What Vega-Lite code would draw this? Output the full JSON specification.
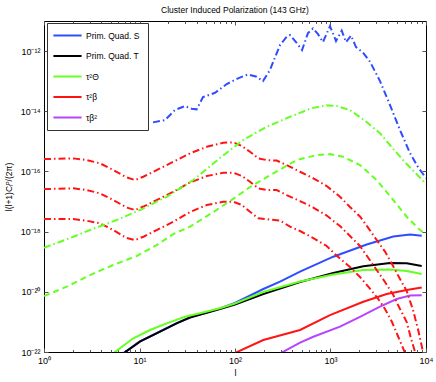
{
  "$schema": "https://vega.github.io/schema/vega-lite/v6.json",
  "width": 382,
  "height": 331,
  "autosize": {"type": "none"},
  "padding": {"left": 44, "top": 21, "right": 10, "bottom": 30},
  "background": "white",
  "title": {"text": "Cluster Induced Polarization (143 GHz)", "fontSize": 8.5, "font": "Liberation Sans", "fontWeight": "normal", "color": "black", "offset": 6},
  "config": {
    "view": {"stroke": "black", "strokeWidth": 1},
    "font": "Liberation Sans",
    "axis": {"grid": false, "domain": false, "labelFont": "Liberation Sans", "titleFont": "Liberation Sans", "labelColor": "black", "titleColor": "black", "tickColor": "#555", "tickWidth": 1, "labelFlush": false, "labelOverlap": false, "titleFontWeight": "normal"}
  },
  "datasets": {
    "curves": [
      {"c": "Prim. Quad. S", "l": 6.8, "v": 9.2e-23},
      {"c": "Prim. Quad. S", "l": 10.1, "v": 2.25e-22},
      {"c": "Prim. Quad. S", "l": 16.4, "v": 4.8e-22},
      {"c": "Prim. Quad. S", "l": 24.5, "v": 9.1e-22},
      {"c": "Prim. Quad. S", "l": 33.8, "v": 1.42e-21},
      {"c": "Prim. Quad. S", "l": 50.6, "v": 2.06e-21},
      {"c": "Prim. Quad. S", "l": 69.6, "v": 2.8e-21},
      {"c": "Prim. Quad. S", "l": 100, "v": 4.25e-21},
      {"c": "Prim. Quad. S", "l": 198, "v": 1.24e-20},
      {"c": "Prim. Quad. S", "l": 296, "v": 2.17e-20},
      {"c": "Prim. Quad. S", "l": 480, "v": 4.72e-20},
      {"c": "Prim. Quad. S", "l": 1069, "v": 1.47e-19},
      {"c": "Prim. Quad. S", "l": 2393, "v": 3.72e-19},
      {"c": "Prim. Quad. S", "l": 4546, "v": 6.87e-19},
      {"c": "Prim. Quad. S", "l": 6800, "v": 8.02e-19},
      {"c": "Prim. Quad. S", "l": 9018, "v": 7.31e-19},

      {"c": "Prim. Quad. T", "l": 6.8, "v": 9.0e-23},
      {"c": "Prim. Quad. T", "l": 10.1, "v": 2.2e-22},
      {"c": "Prim. Quad. T", "l": 16.4, "v": 4.72e-22},
      {"c": "Prim. Quad. T", "l": 24.5, "v": 8.97e-22},
      {"c": "Prim. Quad. T", "l": 33.8, "v": 1.4e-21},
      {"c": "Prim. Quad. T", "l": 50.6, "v": 2.02e-21},
      {"c": "Prim. Quad. T", "l": 69.6, "v": 2.69e-21},
      {"c": "Prim. Quad. T", "l": 100, "v": 3.78e-21},
      {"c": "Prim. Quad. T", "l": 198, "v": 8.45e-21},
      {"c": "Prim. Quad. T", "l": 480, "v": 2.12e-20},
      {"c": "Prim. Quad. T", "l": 1069, "v": 4.22e-20},
      {"c": "Prim. Quad. T", "l": 2206, "v": 7.03e-20},
      {"c": "Prim. Quad. T", "l": 4198, "v": 9.06e-20},
      {"c": "Prim. Quad. T", "l": 6283, "v": 8.85e-20},
      {"c": "Prim. Quad. T", "l": 9018, "v": 7.19e-20},

      {"c": "τ²Θ", "l": 5.3, "v": 9.0e-23},
      {"c": "τ²Θ", "l": 8.61, "v": 2.85e-22},
      {"c": "τ²Θ", "l": 12.9, "v": 5.38e-22},
      {"c": "τ²Θ", "l": 19.3, "v": 8.97e-22},
      {"c": "τ²Θ", "l": 29.9, "v": 1.49e-21},
      {"c": "τ²Θ", "l": 43.0, "v": 1.93e-21},
      {"c": "τ²Θ", "l": 69.6, "v": 2.83e-21},
      {"c": "τ²Θ", "l": 100, "v": 4.08e-21},
      {"c": "τ²Θ", "l": 198, "v": 9.84e-21},
      {"c": "τ²Θ", "l": 480, "v": 2.2e-20},
      {"c": "τ²Θ", "l": 1069, "v": 3.76e-20},
      {"c": "τ²Θ", "l": 2206, "v": 5.3e-20},
      {"c": "τ²Θ", "l": 4198, "v": 5.51e-20},
      {"c": "τ²Θ", "l": 6283, "v": 4.91e-20},
      {"c": "τ²Θ", "l": 9018, "v": 3.9e-20},

      {"c": "τ²β", "l": 100, "v": 9.27e-23},
      {"c": "τ²β", "l": 197.8, "v": 2.51e-22},
      {"c": "τ²β", "l": 479.7, "v": 5.38e-22},
      {"c": "τ²β", "l": 988, "v": 1.69e-21},
      {"c": "τ²β", "l": 2206, "v": 4.69e-21},
      {"c": "τ²β", "l": 3875, "v": 8.45e-21},
      {"c": "τ²β", "l": 6283, "v": 1.15e-20},
      {"c": "τ²β", "l": 9018, "v": 1.39e-20},

      {"c": "τβ²", "l": 296, "v": 8.9e-23},
      {"c": "τβ²", "l": 480, "v": 2.04e-22},
      {"c": "τβ²", "l": 661, "v": 3.22e-22},
      {"c": "τβ²", "l": 1257, "v": 6.93e-22},
      {"c": "τβ²", "l": 2036, "v": 1.46e-21},
      {"c": "τβ²", "l": 3298, "v": 3.2e-21},
      {"c": "τβ²", "l": 4932, "v": 5.77e-21},
      {"c": "τβ²", "l": 6800, "v": 7.53e-21},
      {"c": "τβ²", "l": 9018, "v": 7.66e-21}
    ],
    "blueDD": [
      {"c": "S cluster", "l": 13.85, "v": 4.28e-15},
      {"c": "S cluster", "l": 18.5, "v": 5.11e-15},
      {"c": "S cluster", "l": 23.5, "v": 1.1e-14},
      {"c": "S cluster", "l": 29.9, "v": 1.49e-14},
      {"c": "S cluster", "l": 35.2, "v": 1.21e-14},
      {"c": "S cluster", "l": 39.7, "v": 1.16e-14},
      {"c": "S cluster", "l": 46.2, "v": 2.96e-14},
      {"c": "S cluster", "l": 61.8, "v": 4.12e-14},
      {"c": "S cluster", "l": 81.9, "v": 8.02e-14},
      {"c": "S cluster", "l": 107.5, "v": 1.24e-13},
      {"c": "S cluster", "l": 136.7, "v": 1.68e-13},
      {"c": "S cluster", "l": 168.7, "v": 1.4e-13},
      {"c": "S cluster", "l": 196.3, "v": 1.01e-13},
      {"c": "S cluster", "l": 232.4, "v": 2.34e-13},
      {"c": "S cluster", "l": 262.2, "v": 6.18e-13},
      {"c": "S cluster", "l": 295.9, "v": 1.58e-12},
      {"c": "S cluster", "l": 347.8, "v": 2.99e-12},
      {"c": "S cluster", "l": 376.7, "v": 3.4e-12},
      {"c": "S cluster", "l": 435.5, "v": 1.99e-12},
      {"c": "S cluster", "l": 503.5, "v": 1.08e-12},
      {"c": "S cluster", "l": 580.8, "v": 3.96e-12},
      {"c": "S cluster", "l": 655.7, "v": 5.68e-12},
      {"c": "S cluster", "l": 739.6, "v": 3.67e-12},
      {"c": "S cluster", "l": 834, "v": 1.99e-12},
      {"c": "S cluster", "l": 988, "v": 6.78e-12},
      {"c": "S cluster", "l": 1142, "v": 2.15e-12},
      {"c": "S cluster", "l": 1310, "v": 4.8e-12},
      {"c": "S cluster", "l": 1453, "v": 1.99e-12},
      {"c": "S cluster", "l": 1640, "v": 3.27e-12},
      {"c": "S cluster", "l": 1850, "v": 1.36e-12},
      {"c": "S cluster", "l": 2190, "v": 8.91e-13},
      {"c": "S cluster", "l": 2592, "v": 4.42e-13},
      {"c": "S cluster", "l": 3298, "v": 1.01e-13},
      {"c": "S cluster", "l": 4198, "v": 1.61e-14},
      {"c": "S cluster", "l": 5343, "v": 2.37e-15},
      {"c": "S cluster", "l": 6800, "v": 4.08e-16},
      {"c": "S cluster", "l": 8240, "v": 1.4e-16},
      {"c": "S cluster", "l": 10000, "v": 6.04e-17}
    ],
    "greenDD": [
      {"c": "Theta cluster", "l": 1, "v": 2.92e-19},
      {"c": "Theta cluster", "l": 1.73, "v": 5.55e-19},
      {"c": "Theta cluster", "l": 3.03, "v": 1.13e-18},
      {"c": "Theta cluster", "l": 5.77, "v": 2.43e-18},
      {"c": "Theta cluster", "l": 10.1, "v": 5.22e-18},
      {"c": "Theta cluster", "l": 19.3, "v": 1.44e-17},
      {"c": "Theta cluster", "l": 36.6, "v": 5.18e-17},
      {"c": "Theta cluster", "l": 69.6, "v": 2.79e-16},
      {"c": "Theta cluster", "l": 121, "v": 1.1e-15},
      {"c": "Theta cluster", "l": 215, "v": 3.05e-15},
      {"c": "Theta cluster", "l": 377, "v": 6.56e-15},
      {"c": "Theta cluster", "l": 625, "v": 1.25e-14},
      {"c": "Theta cluster", "l": 912, "v": 1.57e-14},
      {"c": "Theta cluster", "l": 1161, "v": 1.49e-14},
      {"c": "Theta cluster", "l": 1600, "v": 1.1e-14},
      {"c": "Theta cluster", "l": 2355, "v": 4.55e-15},
      {"c": "Theta cluster", "l": 3298, "v": 1.85e-15},
      {"c": "Theta cluster", "l": 4546, "v": 5.55e-16},
      {"c": "Theta cluster", "l": 6283, "v": 1.76e-16},
      {"c": "Theta cluster", "l": 8240, "v": 7.31e-17},
      {"c": "Theta cluster", "l": 10000, "v": 3.81e-17}
    ],
    "greenDash": [
      {"c": "Theta cluster 2", "l": 1, "v": 7.24e-21},
      {"c": "Theta cluster 2", "l": 1.73, "v": 1.48e-20},
      {"c": "Theta cluster 2", "l": 3.03, "v": 3.61e-20},
      {"c": "Theta cluster 2", "l": 5.28, "v": 7.76e-20},
      {"c": "Theta cluster 2", "l": 9.35, "v": 1.55e-19},
      {"c": "Theta cluster 2", "l": 15.1, "v": 3.59e-19},
      {"c": "Theta cluster 2", "l": 22.6, "v": 8.32e-19},
      {"c": "Theta cluster 2", "l": 33.8, "v": 1.46e-18},
      {"c": "Theta cluster 2", "l": 59.3, "v": 4.48e-18},
      {"c": "Theta cluster 2", "l": 88.6, "v": 1.04e-17},
      {"c": "Theta cluster 2", "l": 143.5, "v": 3.03e-17},
      {"c": "Theta cluster 2", "l": 252, "v": 8.65e-17},
      {"c": "Theta cluster 2", "l": 443, "v": 2.39e-16},
      {"c": "Theta cluster 2", "l": 716, "v": 3.51e-16},
      {"c": "Theta cluster 2", "l": 988, "v": 3.78e-16},
      {"c": "Theta cluster 2", "l": 1362, "v": 3.08e-16},
      {"c": "Theta cluster 2", "l": 2036, "v": 1.63e-16},
      {"c": "Theta cluster 2", "l": 3045, "v": 5.18e-17},
      {"c": "Theta cluster 2", "l": 4546, "v": 1.12e-17},
      {"c": "Theta cluster 2", "l": 6283, "v": 3.13e-18},
      {"c": "Theta cluster 2", "l": 8650, "v": 1.13e-18},
      {"c": "Theta cluster 2", "l": 10000, "v": 8.32e-19}
    ],
    "redDD": [
      {"c": "beta a", "l": 1, "v": 2.58e-16},
      {"c": "beta a", "l": 2.03, "v": 2.72e-16},
      {"c": "beta a", "l": 2.8, "v": 2.39e-16},
      {"c": "beta a", "l": 3.86, "v": 1.86e-16},
      {"c": "beta a", "l": 5.32, "v": 1.11e-16},
      {"c": "beta a", "l": 7.34, "v": 6.37e-17},
      {"c": "beta a", "l": 8.97, "v": 5.18e-17},
      {"c": "beta a", "l": 10.96, "v": 6.67e-17},
      {"c": "beta a", "l": 15.1, "v": 1.11e-16},
      {"c": "beta a", "l": 22.6, "v": 2.1e-16},
      {"c": "beta a", "l": 33.8, "v": 3.99e-16},
      {"c": "beta a", "l": 50.6, "v": 6.62e-16},
      {"c": "beta a", "l": 75.4, "v": 8.97e-16},
      {"c": "beta a", "l": 95.9, "v": 9.27e-16},
      {"c": "beta a", "l": 118.3, "v": 6.98e-16},
      {"c": "beta a", "l": 143.5, "v": 4.51e-16},
      {"c": "beta a", "l": 175.5, "v": 2.72e-16},
      {"c": "beta a", "l": 214.6, "v": 2.39e-16},
      {"c": "beta a", "l": 273.3, "v": 2.3e-16},
      {"c": "beta a", "l": 347.8, "v": 1.63e-16},
      {"c": "beta a", "l": 479.7, "v": 9.77e-17},
      {"c": "beta a", "l": 660.7, "v": 5.9e-17},
      {"c": "beta a", "l": 912, "v": 3.27e-17},
      {"c": "beta a", "l": 1257, "v": 1.45e-17},
      {"c": "beta a", "l": 1600, "v": 6.56e-18},
      {"c": "beta a", "l": 2036, "v": 3.18e-18},
      {"c": "beta a", "l": 2411, "v": 1.53e-18},
      {"c": "beta a", "l": 3045, "v": 5.26e-19},
      {"c": "beta a", "l": 3722, "v": 2.18e-19},
      {"c": "beta a", "l": 4406, "v": 8.39e-20},
      {"c": "beta a", "l": 5343, "v": 2.66e-20},
      {"c": "beta a", "l": 6283, "v": 1.06e-20},
      {"c": "beta a", "l": 7311, "v": 2.48e-21},
      {"c": "beta a", "l": 8240, "v": 5.81e-22},
      {"c": "beta a", "l": 9306, "v": 1.0e-22},
      {"c": "beta a", "l": 10000, "v": 4.7e-23},

      {"c": "beta b", "l": 1, "v": 2.6e-17},
      {"c": "beta b", "l": 2.03, "v": 2.75e-17},
      {"c": "beta b", "l": 2.8, "v": 2.41e-17},
      {"c": "beta b", "l": 3.86, "v": 1.87e-17},
      {"c": "beta b", "l": 5.32, "v": 1.12e-17},
      {"c": "beta b", "l": 7.34, "v": 6.32e-18},
      {"c": "beta b", "l": 8.97, "v": 5.22e-18},
      {"c": "beta b", "l": 11.0, "v": 6.82e-18},
      {"c": "beta b", "l": 15.1, "v": 1.12e-17},
      {"c": "beta b", "l": 22.6, "v": 2.12e-17},
      {"c": "beta b", "l": 33.8, "v": 4.28e-17},
      {"c": "beta b", "l": 50.6, "v": 7.03e-17},
      {"c": "beta b", "l": 75.4, "v": 9.06e-17},
      {"c": "beta b", "l": 95.9, "v": 9.06e-17},
      {"c": "beta b", "l": 118.3, "v": 7.03e-17},
      {"c": "beta b", "l": 143.5, "v": 4.55e-17},
      {"c": "beta b", "l": 175.5, "v": 2.75e-17},
      {"c": "beta b", "l": 214.6, "v": 2.41e-17},
      {"c": "beta b", "l": 273.3, "v": 2.41e-17},
      {"c": "beta b", "l": 347.8, "v": 1.64e-17},
      {"c": "beta b", "l": 479.7, "v": 1.04e-17},
      {"c": "beta b", "l": 660.7, "v": 6.32e-18},
      {"c": "beta b", "l": 912, "v": 3.43e-18},
      {"c": "beta b", "l": 1257, "v": 1.53e-18},
      {"c": "beta b", "l": 1600, "v": 7.15e-19},
      {"c": "beta b", "l": 2036, "v": 3.33e-19},
      {"c": "beta b", "l": 2411, "v": 1.55e-19},
      {"c": "beta b", "l": 3045, "v": 5.3e-20},
      {"c": "beta b", "l": 3722, "v": 2.12e-20},
      {"c": "beta b", "l": 4546, "v": 7.83e-21},
      {"c": "beta b", "l": 5343, "v": 2.69e-21},
      {"c": "beta b", "l": 6283, "v": 9.93e-22},
      {"c": "beta b", "l": 6900, "v": 3.15e-22},
      {"c": "beta b", "l": 7674, "v": 1.0e-22},
      {"c": "beta b", "l": 8240, "v": 4.3e-23},

      {"c": "beta c", "l": 1, "v": 2.62e-18},
      {"c": "beta c", "l": 2.03, "v": 2.62e-18},
      {"c": "beta c", "l": 2.8, "v": 2.3e-18},
      {"c": "beta c", "l": 3.86, "v": 1.89e-18},
      {"c": "beta c", "l": 5.32, "v": 1.13e-18},
      {"c": "beta c", "l": 7.34, "v": 6.12e-19},
      {"c": "beta c", "l": 8.97, "v": 5.26e-19},
      {"c": "beta c", "l": 11.0, "v": 6.78e-19},
      {"c": "beta c", "l": 15.1, "v": 1.13e-18},
      {"c": "beta c", "l": 22.6, "v": 2.13e-18},
      {"c": "beta c", "l": 33.8, "v": 4.48e-18},
      {"c": "beta c", "l": 50.6, "v": 7.66e-18},
      {"c": "beta c", "l": 75.4, "v": 9.84e-18},
      {"c": "beta c", "l": 95.9, "v": 9.84e-18},
      {"c": "beta c", "l": 118.3, "v": 7.66e-18},
      {"c": "beta c", "l": 143.5, "v": 4.58e-18},
      {"c": "beta c", "l": 175.5, "v": 2.77e-18},
      {"c": "beta c", "l": 232, "v": 2.52e-18},
      {"c": "beta c", "l": 295.9, "v": 2.34e-18},
      {"c": "beta c", "l": 376.7, "v": 1.46e-18},
      {"c": "beta c", "l": 479.7, "v": 1.05e-18},
      {"c": "beta c", "l": 660.7, "v": 6.12e-19},
      {"c": "beta c", "l": 912, "v": 3.33e-19},
      {"c": "beta c", "l": 1161, "v": 1.58e-19},
      {"c": "beta c", "l": 1600, "v": 6.67e-20},
      {"c": "beta c", "l": 2036, "v": 3.1e-20},
      {"c": "beta c", "l": 2411, "v": 1.68e-20},
      {"c": "beta c", "l": 3165, "v": 5.77e-21},
      {"c": "beta c", "l": 3722, "v": 2.69e-21},
      {"c": "beta c", "l": 4406, "v": 9.93e-22},
      {"c": "beta c", "l": 5080, "v": 3.4e-22},
      {"c": "beta c", "l": 5980, "v": 1.0e-22},
      {"c": "beta c", "l": 6440, "v": 4.7e-23}
    ]
  },
  "layer": [
    {
      "data": {"name": "curves"},
      "mark": {"type": "line", "strokeWidth": 2, "clip": true},
      "encoding": {
        "x": {"field": "l", "type": "quantitative", "scale": {"type": "log", "domain": [1, 10000], "nice": false},
          "axis": {"orient": "bottom", "values": [1, 10, 100, 1000, 10000], "ticks": false, "labelFontSize": 9, "labelPadding": 4,
            "labelExpr": "datum.value < 5 ? '10⁰' : datum.value < 50 ? '10¹' : datum.value < 500 ? '10²' : datum.value < 5000 ? '10³' : '10⁴'",
            "title": "l", "titleFontSize": 9, "titlePadding": 3}},
        "y": {"field": "v", "type": "quantitative", "scale": {"type": "log", "domain": [1e-22, 1e-11], "nice": false},
          "axis": {"orient": "left", "values": [1e-22, 1e-20, 1e-18, 1e-16, 1e-14, 1e-12], "ticks": false, "labelFontSize": 9, "labelPadding": 4,
            "labelExpr": "datum.value < 5e-22 ? '10⁻²²' : datum.value < 5e-20 ? '10⁻²⁰' : datum.value < 5e-18 ? '10⁻¹⁸' : datum.value < 5e-16 ? '10⁻¹⁶' : datum.value < 5e-14 ? '10⁻¹⁴' : '10⁻¹²'",
            "title": "l(l+1)Cₗᴾ/(2π)", "titleFontSize": 8.5, "titlePadding": 7}},
        "color": {"field": "c", "type": "nominal",
          "scale": {"domain": ["Prim. Quad. S", "Prim. Quad. T", "τ²Θ", "τ²β", "τβ²"], "range": ["#2f4dff", "#000000", "#66ff22", "#ff1414", "#b545ff"]},
          "sort": ["Prim. Quad. S", "Prim. Quad. T", "τ²Θ", "τ²β", "τβ²"],
          "legend": {"orient": "none", "legendX": 3, "legendY": 2, "title": null, "fillColor": "white", "strokeColor": "#333", "padding": 8,
            "symbolType": "M-4.4,0H4.4", "symbolSize": 41, "symbolStrokeWidth": 2, "symbolOffset": 8, "symbolFillColor": "transparent",
            "labelFontSize": 8.5, "labelFont": "Liberation Sans", "rowPadding": 11.5, "labelOffset": 14,
            "labelExpr": "datum.label + '\u00a0\u00a0\u00a0\u00a0'"}}
      }
    },
    {
      "data": {"name": "redDD"},
      "mark": {"type": "line", "strokeWidth": 2, "clip": true, "color": "#ff1414", "strokeDash": [7, 3, 1.5, 3]},
      "encoding": {
        "x": {"field": "l", "type": "quantitative", "scale": {"type": "log", "domain": [1, 10000], "nice": false},
          "axis": {"orient": "bottom", "values": [1, 10, 100, 1000, 10000], "labels": false, "title": null, "tickSize": -4}},
        "y": {"field": "v", "type": "quantitative", "scale": {"type": "log", "domain": [1e-22, 1e-11], "nice": false},
          "axis": {"orient": "left", "values": [1e-22, 1e-20, 1e-18, 1e-16, 1e-14, 1e-12], "labels": false, "title": null, "tickSize": -4}},
        "detail": {"field": "c", "type": "nominal"}
      }
    },
    {
      "data": {"name": "blueDD"},
      "mark": {"type": "line", "strokeWidth": 2, "clip": true, "color": "#2f4dff", "strokeDash": [7, 3, 1.5, 3]},
      "encoding": {
        "x": {"field": "l", "type": "quantitative", "scale": {"type": "log", "domain": [1, 10000], "nice": false},
          "axis": {"orient": "bottom", "values": [2,3,4,5,6,7,8,9,20,30,40,50,60,70,80,90,200,300,400,500,600,700,800,900,2000,3000,4000,5000,6000,7000,8000,9000], "labels": false, "title": null, "tickSize": -2.5}},
        "y": {"field": "v", "type": "quantitative", "scale": {"type": "log", "domain": [1e-22, 1e-11], "nice": false},
          "axis": {"orient": "right", "values": [1e-22, 1e-20, 1e-18, 1e-16, 1e-14, 1e-12], "labels": false, "title": null, "tickSize": -4}}
      }
    },
    {
      "data": {"name": "greenDD"},
      "mark": {"type": "line", "strokeWidth": 2, "clip": true, "color": "#66ff22", "strokeDash": [7, 3, 1.5, 3]},
      "encoding": {
        "x": {"field": "l", "type": "quantitative", "scale": {"type": "log", "domain": [1, 10000], "nice": false},
          "axis": {"orient": "top", "values": [1, 10, 100, 1000, 10000], "labels": false, "title": null, "tickSize": -4}},
        "y": {"field": "v", "type": "quantitative", "scale": {"type": "log", "domain": [1e-22, 1e-11], "nice": false}, "axis": null}
      }
    },
    {
      "data": {"name": "greenDash"},
      "mark": {"type": "line", "strokeWidth": 2, "clip": true, "color": "#66ff22", "strokeDash": [6, 4]},
      "encoding": {
        "x": {"field": "l", "type": "quantitative", "scale": {"type": "log", "domain": [1, 10000], "nice": false},
          "axis": {"orient": "top", "values": [2,3,4,5,6,7,8,9,20,30,40,50,60,70,80,90,200,300,400,500,600,700,800,900,2000,3000,4000,5000,6000,7000,8000,9000], "labels": false, "title": null, "tickSize": -2.5}},
        "y": {"field": "v", "type": "quantitative", "scale": {"type": "log", "domain": [1e-22, 1e-11], "nice": false}, "axis": null}
      }
    }
  ],
  "resolve": {"axis": {"x": "independent", "y": "independent"}}
}
